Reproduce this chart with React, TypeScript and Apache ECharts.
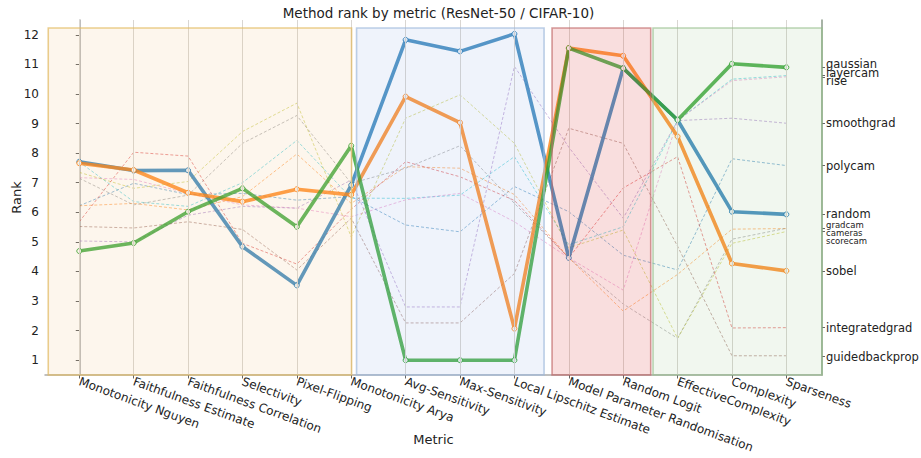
import React, { useEffect, useRef } from "react";
import * as echarts from "echarts";

const metrics = [
  "Monotonicity Nguyen", "Faithfulness Estimate", "Faithfulness Correlation", "Selectivity",
  "Pixel-Flipping", "Monotonicity Arya", "Avg-Sensitivity", "Max-Sensitivity",
  "Local Lipschitz Estimate", "Model Parameter Randomisation", "Random Logit",
  "EffectiveComplexity", "Complexity", "Sparseness",
];

// highlighted methods
const random = [7.71, 7.41, 7.42, 4.84, 3.53, 6.92, 11.83, 11.44, 12.03, 4.46, 10.87, 9.12, 6.02, 5.93];
const sobel = [7.66, 7.43, 6.66, 6.36, 6.78, 6.59, 9.91, 9.03, 2.07, 11.55, 11.29, 8.56, 4.27, 4.02];
const gaussian = [4.69, 4.96, 6.02, 6.81, 5.51, 8.25, 1.0, 1.0, 1.0, 11.55, 10.87, 9.12, 11.02, 10.9];

// other methods
const layercam = [7.7, 6.36, 6.2, 7.0, 8.43, 6.48, 6.47, 6.58, 7.88, 4.9, 5.51, 9.1, 10.5, 10.62];
const rise = [7.17, 7.11, 6.64, 6.25, 6.14, 5.85, 6.42, 6.64, 5.68, 4.46, 3.37, 9.1, 10.45, 10.58];
const smoothgrad = [5.03, 5.0, 5.9, 6.2, 6.14, 7.09, 2.8, 2.8, 10.93, 8.2, 5.8, 9.1, 9.18, 9.01];
const polycam = [6.22, 6.98, 6.6, 6.64, 6.41, 6.53, 5.57, 5.34, 6.87, 6.02, 4.55, 4.05, 7.81, 7.58];
const gradcam = [6.22, 6.3, 6.08, 6.53, 7.97, 6.3, 7.54, 7.49, 6.6, 4.46, 2.66, 3.9, 5.43, 5.45];
const cameras = [7.15, 6.25, 6.58, 8.33, 9.27, 6.98, 7.49, 8.25, 6.3, 4.46, 2.9, 1.74, 5.09, 5.46];
const scorecam = [7.35, 6.81, 7.04, 8.73, 9.69, 5.17, 9.18, 9.97, 8.33, 4.8, 5.4, 1.74, 4.95, 5.35];
const integratedgrad = [5.68, 8.03, 7.9, 4.95, 4.25, 6.1, 7.71, 7.2, 6.4, 4.46, 6.82, 7.88, 2.09, 2.1];
const guidedbackprop = [5.52, 5.47, 5.68, 5.42, 4.05, 5.8, 2.26, 2.26, 3.93, 8.84, 8.33, 4.85, 1.15, 1.15];

const highlighted = [
  { name: "random", data: random, color: "#1f77b4" },
  { name: "sobel", data: sobel, color: "#ff7f0e" },
  { name: "gaussian", data: gaussian, color: "#2ca02c" },
];
const others = [
  { name: "layercam", data: layercam, color: "#17becf" },
  { name: "rise", data: rise, color: "#e377c2" },
  { name: "smoothgrad", data: smoothgrad, color: "#9467bd" },
  { name: "polycam", data: polycam, color: "#1f77b4" },
  { name: "gradcam", data: gradcam, color: "#ff7f0e" },
  { name: "cameras", data: cameras, color: "#7f7f7f" },
  { name: "scorecam", data: scorecam, color: "#bcbd22" },
  { name: "integratedgrad", data: integratedgrad, color: "#d62728" },
  { name: "guidedbackprop", data: guidedbackprop, color: "#8c564b" },
];

// right-side label groups (stacked names share one de-overlapped position, in rank units)
const rightLabelGroups = [
  ["gaussian", "layercam", "rise"],
  ["smoothgrad"],
  ["polycam"],
  ["random"],
  ["gradcam", "cameras", "scorecam"],
  ["sobel"],
  ["integratedgrad"],
  ["guidedbackprop"],
];
const rightLabelPos = [10.72, 9.01, 7.55, 5.94, 5.3, 4.03, 2.1, 1.1];
const smallLabels = ["gradcam", "cameras", "scorecam"];

// metric-group regions [start, end] in category-index units
const regions = [
  { from: -0.57, to: 5.006, fill: "rgba(240,180,110,0.12)", edge: "rgba(225,185,95,0.7)" },
  { from: 5.098, to: 8.545, fill: "rgba(120,160,220,0.12)", edge: "rgba(160,185,220,0.7)" },
  { from: 8.692, to: 10.506, fill: "rgba(220,60,60,0.17)", edge: "rgba(190,100,100,0.65)" },
  { from: 10.548, to: 13.655, fill: "rgba(120,180,100,0.10)", edge: "rgba(150,190,140,0.65)" },
];

const FONT = "DejaVu Sans";
const idx = metrics.map((_, i) => i);

export default function App() {
  const ref = useRef<HTMLDivElement>(null);
  useEffect(() => {
    if (!ref.current) return;
    const chart = echarts.init(ref.current, undefined, { renderer: "svg" });
    const toPts = (d: number[]) => d.map((v, i) => [i, v]);
    const series: any[] = [];
    others.forEach((m) => {
      series.push({
        type: "line",
        name: m.name,
        data: toPts(m.data),
        yAxisIndex: 0,
        symbol: "none",
        z: 2,
        lineStyle: { color: m.color, width: 0.8, type: [3, 2], opacity: 0.6 },
        silent: true,
      });
    });
    highlighted.forEach((m) => {
      series.push({
        type: "line",
        name: m.name,
        data: toPts(m.data),
        yAxisIndex: 0,
        symbol: "circle",
        symbolSize: 5,
        z: 3,
        itemStyle: { color: "#ffffff", borderColor: m.color, borderWidth: 1, opacity: 0.85 },
        lineStyle: { color: m.color, width: 3.6, opacity: 0.78 },
        silent: true,
      });
    });
    // vertical grid lines at each metric
    series.push({
      type: "line",
      data: [],
      z: 1,
      markLine: {
        silent: true,
        symbol: "none",
        label: { show: false },
        lineStyle: { color: "#d9d6d2", width: 1, type: "solid" },
        data: idx.map((i) => ({ xAxis: i })),
      },
    });
    // metric group regions
    series.push({
      type: "line",
      data: [],
      markArea: {
        silent: true,
        z: 10,
        data: regions.map((r) => [
          { xAxis: r.from, yAxis: 0.5, itemStyle: { color: r.fill, borderColor: r.edge, borderWidth: 1.6 } },
          { xAxis: r.to, yAxis: 12.23 },
        ]),
      },
    });

    const endValues = [...highlighted, ...others].map((m) => m.data[m.data.length - 1]);

    chart.setOption({
      animation: false,
      backgroundColor: "#ffffff",
      textStyle: { fontFamily: FONT },
      title: {
        text: "Method rank by metric (ResNet-50 / CIFAR-10)",
        left: 433.5,
        top: 1,
        textAlign: "center",
        textStyle: { fontFamily: FONT, fontSize: 13.5, fontWeight: "normal", color: "#222" },
      },
      grid: { left: 45, right: 99, top: 20, bottom: 83, containLabel: false, outerBoundsMode: "none" },
      xAxis: {
        type: "value",
        min: -0.63,
        max: 13.655,
        name: "Metric",
        nameLocation: "middle",
        nameGap: 58,
        nameMoveOverlap: false,
        nameTextStyle: { fontFamily: FONT, fontSize: 13, color: "#222" },
        axisLine: { show: true, lineStyle: { color: "#aaa", width: 1.5 } },
        axisTick: { show: true, customValues: idx, length: 3.5, lineStyle: { color: "#666" } },
        splitLine: { show: false },
        axisLabel: {
          customValues: idx,
          rotate: -20,
          margin: 6,
          fontFamily: FONT,
          fontSize: 12,
          color: "#222",
          formatter: (v: number) => metrics[Math.round(v)] ?? "",
        },
      },
      yAxis: [
        {
          type: "value",
          min: 0.5,
          max: 12.5,
          name: "Rank",
          nameLocation: "middle",
          nameGap: 22,
          nameMoveOverlap: false,
          nameTextStyle: { fontFamily: FONT, fontSize: 13, color: "#222" },
          axisLine: { show: true, lineStyle: { color: "#aaa", width: 1.5 } },
          axisTick: { show: true, customValues: [1, 2, 3, 4, 5, 6, 7, 8, 9, 10, 11, 12], length: 3.5, lineStyle: { color: "#666" } },
          splitLine: { show: false },
          axisLabel: {
            customValues: [1, 2, 3, 4, 5, 6, 7, 8, 9, 10, 11, 12],
            margin: 6,
            fontFamily: FONT,
            fontSize: 12,
            color: "#222",
          },
        },
        {
          type: "value",
          position: "right",
          min: 0.5,
          max: 12.5,
          axisLine: { show: true, lineStyle: { color: "#8a9a88", width: 1.5 } },
          axisTick: { show: true, customValues: endValues, length: 3, lineStyle: { color: "#666" } },
          splitLine: { show: false },
          axisLabel: {
            customValues: rightLabelPos,
            margin: 4,
            hideOverlap: false,
            fontFamily: FONT,
            fontSize: 11.5,
            color: "#222",
            formatter: (v: number) => {
              let best = 0;
              rightLabelPos.forEach((p, i) => {
                if (Math.abs(p - v) < Math.abs(rightLabelPos[best] - v)) best = i;
              });
              return rightLabelGroups[best]
                .map((n) => (smallLabels.includes(n) ? `{s|${n}}` : rightLabelGroups[best].length > 1 ? `{t|${n}}` : `{n|${n}}`))
                .join("\n");
            },
            rich: {
              n: { fontFamily: FONT, fontSize: 11.5, color: "#222", lineHeight: 13 },
              t: { fontFamily: FONT, fontSize: 11.5, color: "#222", lineHeight: 8.8 },
              s: { fontFamily: FONT, fontSize: 8.5, color: "#222", lineHeight: 7.8 },
            },
          },
        },
      ],
      series,
    });
    return () => chart.dispose();
  }, []);
  return (
    <div
      ref={ref}
      style={{ position: "absolute", left: 0, top: 0, width: 921, height: 458, background: "#fff" }}
    />
  );
}
